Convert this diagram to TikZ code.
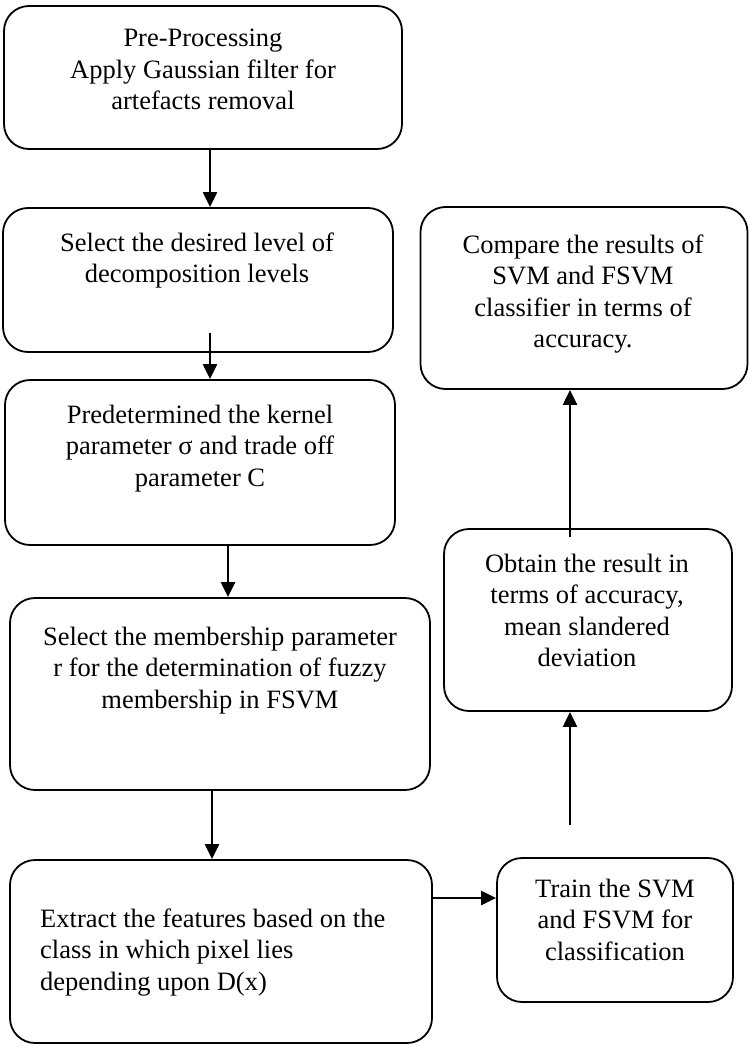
\documentclass[tikz,border=0pt]{standalone}
\usepackage{fontspec}
\setmainfont{Liberation Serif}
\usetikzlibrary{arrows.meta}
\begin{document}
\begin{tikzpicture}[x=1pt,y=-1pt,
  every node/.style={font=\fontsize{26.5}{31.5}\selectfont},
  flowbox/.style={draw, line width=1.8pt, rounded corners=25pt, inner sep=0pt},
  txt/.style={anchor=base, inner sep=0pt},
  arr/.style={line width=2.2pt, -{Triangle[length=15pt,width=14pt]}}]
\useasboundingbox (0,0) rectangle (749,1046);
% boxes
\node[flowbox, minimum width=398pt, minimum height=143pt] (A) at (203,77.5) {};
\node[flowbox, minimum width=390pt, minimum height=144pt] (B) at (198,280) {};
\node[flowbox, minimum width=390pt, minimum height=165pt] (C) at (200,462.5) {};
\node[flowbox, minimum width=420pt, minimum height=192pt] (D) at (220,694) {};
\node[flowbox, minimum width=422pt, minimum height=183pt] (E) at (221,951.5) {};
\node[flowbox, minimum width=236pt, minimum height=144pt] (F) at (615,930) {};
\node[flowbox, minimum width=327pt, minimum height=182pt] (G) at (584,298) {};
\node[flowbox, minimum width=288pt, minimum height=182pt] (H) at (588,620) {};
% texts
\node[txt] (tA) at (203,47) {\begin{tabular}[t]{@{}c@{}}Pre-Processing\\Apply Gaussian filter for\\artefacts removal\end{tabular}};
\node[txt] (tB) at (197,251) {\begin{tabular}[t]{@{}c@{}}Select the desired level of\\decomposition levels\end{tabular}};
\node[txt] (tC) at (200,423) {\begin{tabular}[t]{@{}c@{}}Predetermined the kernel\\parameter σ and trade off\\parameter C\end{tabular}};
\node[txt] (tD) at (220,645) {\begin{tabular}[t]{@{}c@{}}Select the membership parameter\\r for the determination of fuzzy\\membership in FSVM\end{tabular}};
\node[txt, anchor=base west] (tE) at (40,927) {\begin{tabular}[t]{@{}l@{}}Extract the features based on the\\class in which pixel lies\\depending upon D(x)\end{tabular}};
\node[txt] (tF) at (615,897) {\begin{tabular}[t]{@{}c@{}}Train the SVM\\and FSVM for\\classification\end{tabular}};
\node[txt] (tG) at (583,253) {\begin{tabular}[t]{@{}c@{}}Compare the results of\\SVM and FSVM\\classifier in terms of\\accuracy.\end{tabular}};
\node[txt] (tH) at (587,572) {\begin{tabular}[t]{@{}c@{}}Obtain the result in\\terms of accuracy,\\mean slandered\\deviation\end{tabular}};
% helper coordinates
\coordinate (xab) at (210,0);
\coordinate (b2) at (210,333);
\coordinate (xcd) at (228,0);
\coordinate (xde) at (212,0);
\coordinate (yef) at (0,898);
\coordinate (h2) at (570,537);
\coordinate (h3) at (570,825);
% connectors
\draw[arr] (A.south -| xab) -- (B.north -| xab);
\draw[arr] (b2) -- (C.north -| b2);
\draw[arr] (C.south -| xcd) -- (D.north -| xcd);
\draw[arr] (D.south -| xde) -- (E.north -| xde);
\draw[arr] (E.east |- yef) -- (F.west |- yef);
\draw[arr] (h2) -- (G.south -| h2);
\draw[arr] (h3) -- (H.south -| h3);
\end{tikzpicture}
\end{document}
